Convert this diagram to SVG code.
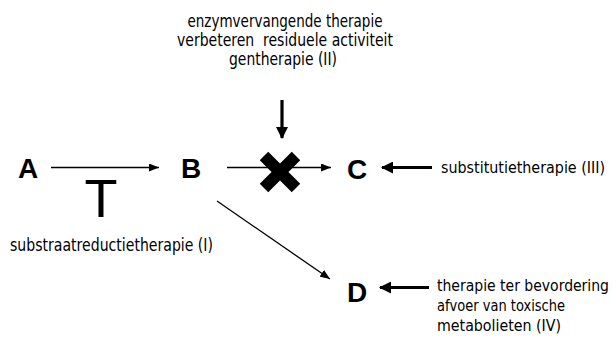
<svg xmlns="http://www.w3.org/2000/svg" width="616" height="351" viewBox="0 0 616 351">
<style>
.lbl{font-family:"DejaVu Sans Condensed","DejaVu Sans",sans-serif;font-stretch:condensed;font-size:17.5px;fill:#000}
.rt{font-size:16px}
.node{font-family:"Liberation Sans",Arial,sans-serif;font-weight:bold;font-size:28px;fill:#000;text-anchor:middle}
.thin{stroke:#000;stroke-width:1.3;fill:none}
.thick{stroke:#000;stroke-width:3.2;fill:none}
</style>
<defs>
<marker id="ah" viewBox="0 0 10 8" refX="10" refY="4" markerWidth="10" markerHeight="8" markerUnits="userSpaceOnUse" orient="auto">
<path d="M0,0 L10,4 L0,8 Z" fill="#000"/>
</marker>
<marker id="ahb" viewBox="0 0 12 12" refX="11" refY="6" markerWidth="12" markerHeight="12" markerUnits="userSpaceOnUse" orient="auto">
<path d="M0,0 L12,6 L0,12 Z" fill="#000"/>
</marker>
</defs>
<rect width="616" height="351" fill="#fff"/>
<g id="A"><text class="node" x="28" y="178">A</text></g>
<g id="B"><text class="node" x="191" y="178">B</text></g>
<g id="C"><text class="node" x="357" y="179">C</text></g>
<g id="D"><text class="node" x="357" y="302">D</text></g>
<g id="connectors">
<line class="thin" x1="51" y1="167.5" x2="159" y2="167.5" marker-end="url(#ah)"/>
<line class="thin" x1="227" y1="167.5" x2="331" y2="167.5" marker-end="url(#ah)"/>
<line class="thin" x1="217" y1="201" x2="330" y2="279" marker-end="url(#ah)"/>
<line class="thick" x1="282" y1="100" x2="282" y2="138" marker-end="url(#ahb)"/>
<line class="thick" x1="432" y1="167.5" x2="382" y2="167.5" marker-end="url(#ahb)"/>
<line class="thick" x1="429" y1="287.5" x2="380" y2="287.5" marker-end="url(#ahb)"/>
</g>
<g id="block">
<path d="M264,156 L296,188 M296,156 L264,188" stroke="#000" stroke-width="12" fill="none"/>
</g>
<g id="inhibit">
<text x="101" y="217" font-family="Liberation Sans,Arial,sans-serif" font-size="54" text-anchor="middle">T</text>
</g>
<g id="labels">
<text class="lbl" text-anchor="middle" x="285" y="27" textLength="195" lengthAdjust="spacingAndGlyphs">enzymvervangende therapie</text>
<text class="lbl" text-anchor="middle" x="285" y="46" textLength="216" lengthAdjust="spacingAndGlyphs" xml:space="preserve">verbeteren  residuele activiteit</text>
<text class="lbl" text-anchor="middle" x="283" y="65" textLength="108" lengthAdjust="spacingAndGlyphs">gentherapie (II)</text>
<text class="lbl rt" x="441" y="173" textLength="164" lengthAdjust="spacingAndGlyphs">substitutietherapie (III)</text>
<text class="lbl" x="10" y="251" textLength="203" lengthAdjust="spacingAndGlyphs">substraatreductietherapie (I)</text>
<text class="lbl rt" x="437" y="291" textLength="172" lengthAdjust="spacingAndGlyphs">therapie ter bevordering</text>
<text class="lbl rt" x="437" y="311" textLength="128" lengthAdjust="spacingAndGlyphs">afvoer van toxische</text>
<text class="lbl rt" x="437" y="331" textLength="124" lengthAdjust="spacingAndGlyphs">metabolieten (IV)</text>
</g>
</svg>
